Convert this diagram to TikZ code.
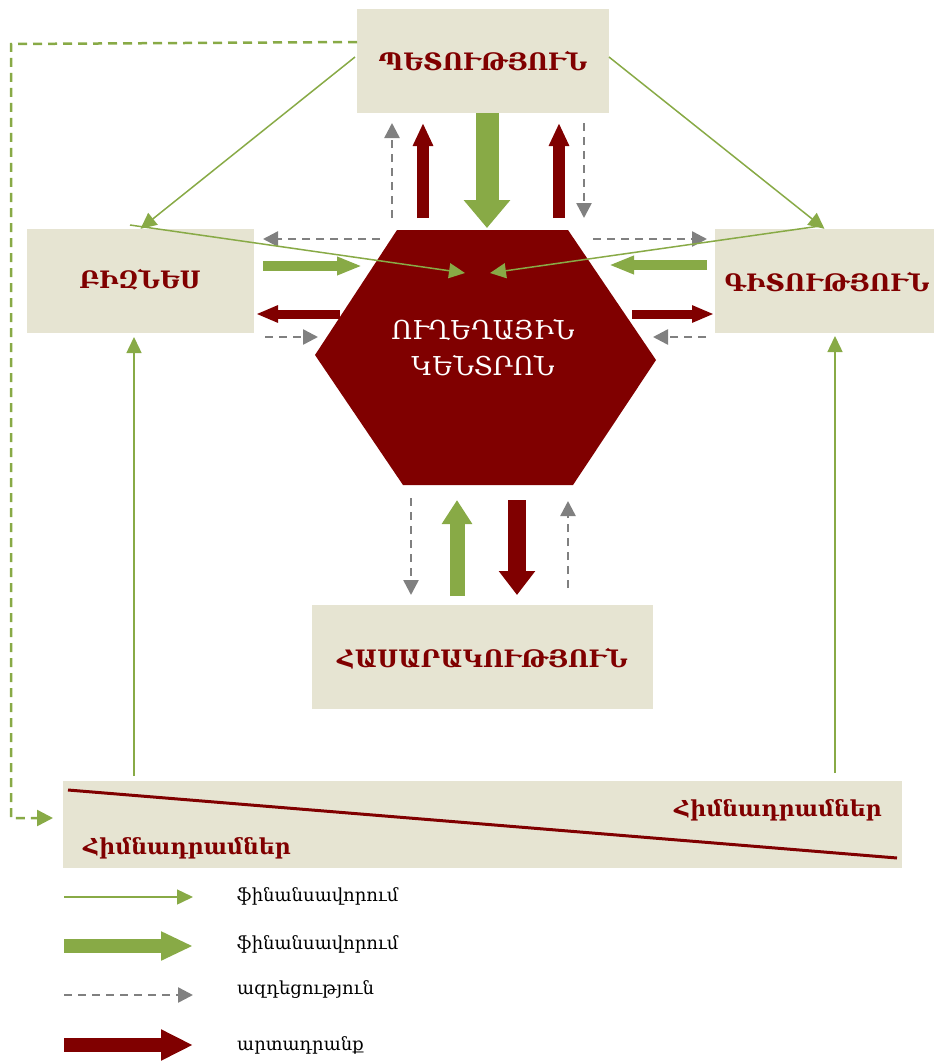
\documentclass[tikz,border=0pt]{standalone}
\usepackage{fontspec}
\setmainfont{DejaVu Serif}
\usetikzlibrary{arrows.meta,calc}
\definecolor{beige}{RGB}{230,228,210}
\definecolor{dred}{RGB}{128,0,0}
\definecolor{lgreen}{RGB}{136,170,70}
\definecolor{lgray}{RGB}{128,128,128}
\begin{document}
\begin{tikzpicture}[x=1pt,y=-1pt,
  box/.style={fill=beige, inner sep=0pt},
  boxtext/.style={inner sep=0pt, text=dred, font=\bfseries\fontsize{24}{28}\selectfont},
  thinarrow/.style={lgreen, line width=1.5pt, -{Triangle[width=15pt,length=16pt]}},
  infl/.style={lgray, line width=2.5pt, dash pattern=on 8pt off 6pt, -{Triangle[width=15pt,length=15pt]}},
  fundline/.style={lgreen, line width=2.5pt, dash pattern=on 9pt off 6pt, -{Triangle[width=16pt,length=16pt]}},
  blockarrow/.style n args={3}{line width=#1, -{Triangle[width=#2,length=#3]}},
  legtext/.style={anchor=west, inner sep=0pt, font=\fontsize{18}{22}\selectfont, text=black},
  fundtext/.style={inner sep=0pt, text=dred, font=\bfseries\fontsize{22}{24}\selectfont}
]
\useasboundingbox (0,0) rectangle (934,1061);

% boxes
\node[box, minimum width=252pt, minimum height=104pt] (pet) at (483,61) {};
\node[box, minimum width=227pt, minimum height=104pt] (biz) at (140.5,281) {};
\node[box, minimum width=219pt, minimum height=104pt] (git) at (824.5,281) {};
\node[box, minimum width=341pt, minimum height=104pt] (has) at (482.5,657) {};
\node[box, minimum width=839pt, minimum height=87pt] (fund) at (482.5,824.5) {};
\node[boxtext] (petT) at (pet.center) {ՊԵՏՈՒԹՅՈՒՆ};
\node[boxtext] (bizT) at (140,280) {ԲԻԶՆԵՍ};
\node[boxtext] (gitT) at (827,282) {ԳԻՏՈՒԹՅՈՒՆ};
\node[boxtext] (hasT) at (482.5,659) {ՀԱՍԱՐԱԿՈՒԹՅՈՒՆ};

% hexagon
\fill[dred] (397,230) -- (568,230) -- (656,360) -- (573,485) -- (403,485) -- (315,355) -- cycle;
\node[text=white, align=center, font=\fontsize{26}{36}\selectfont, inner sep=0pt] (hub) at (483,348) {ՈՒՂԵՂԱՅԻՆ\\ԿԵՆՏՐՈՆ};

% funds box contents
\coordinate (dA) at (68,790);
\coordinate (dB) at (897,858);
\draw[dred, line width=3pt] (dA) -- (dB);
\node[fundtext] (f1) at (778,810) {Հիմնադրամներ};
\node[fundtext] (f2) at (187,848) {Հիմնադրամներ};

% coordinates top
\coordinate (t1a) at (392,218); \coordinate (t1b) at (392,123);
\coordinate (t2a) at (423,218); \coordinate (t2b) at (423,123);
\coordinate (t3a) at (487,113); \coordinate (t3b) at (487,228);
\coordinate (t4a) at (559,218); \coordinate (t4b) at (559,123);
\coordinate (t5a) at (584,123); \coordinate (t5b) at (584,218);
% left
\coordinate (l1a) at (380,239); \coordinate (l1b) at (263,239);
\coordinate (l2a) at (263,266); \coordinate (l2b) at (362,266);
\coordinate (l3a) at (340,314); \coordinate (l3b) at (256,314);
\coordinate (l4a) at (265,337); \coordinate (l4b) at (318,337);
% right
\coordinate (r1a) at (593,239); \coordinate (r1b) at (707,239);
\coordinate (r2a) at (707,265); \coordinate (r2b) at (609,265);
\coordinate (r3a) at (632,314); \coordinate (r3b) at (714,314);
\coordinate (r4a) at (706,337); \coordinate (r4b) at (653,337);
% bottom
\coordinate (b1a) at (411,498); \coordinate (b1b) at (411,595);
\coordinate (b2a) at (457,596); \coordinate (b2b) at (457,500);
\coordinate (b3a) at (517,500); \coordinate (b3b) at (517,595);
\coordinate (b4a) at (568,588); \coordinate (b4b) at (568,501);

% top arrows
\draw[infl] (t1a) -- (t1b);
\draw[dred, blockarrow={12pt}{19pt}{23pt}] (t2a) -- (t2b);
\draw[lgreen, blockarrow={23pt}{45pt}{28pt}] (t3a) -- (t3b);
\draw[dred, blockarrow={12pt}{19pt}{23pt}] (t4a) -- (t4b);
\draw[infl] (t5a) -- (t5b);
% left arrows
\draw[infl] (l1a) -- (l1b);
\draw[lgreen, blockarrow={10pt}{17pt}{25pt}] (l2a) -- (l2b);
\draw[dred, blockarrow={9pt}{16pt}{22pt}] (l3a) -- (l3b);
\draw[infl] (l4a) -- (l4b);
% right arrows
\draw[infl] (r1a) -- (r1b);
\draw[lgreen, blockarrow={10pt}{17pt}{25pt}] (r2a) -- (r2b);
\draw[dred, blockarrow={9pt}{16pt}{22pt}] (r3a) -- (r3b);
\draw[infl] (r4a) -- (r4b);
% bottom arrows
\draw[infl] (b1a) -- (b1b);
\draw[lgreen, blockarrow={15pt}{29pt}{24pt}] (b2a) -- (b2b);
\draw[dred, blockarrow={18pt}{35pt}{24pt}] (b3a) -- (b3b);
\draw[infl] (b4a) -- (b4b);

% thin green financing lines
\coordinate (p1) at (355,57);
\coordinate (p2) at (609,57);
\draw[thinarrow] (p1) -- (biz.north);
\draw[thinarrow] (p2) -- (git.north);
\coordinate (c1s) at (130,225); \coordinate (c1e) at (465,273);
\coordinate (c2s) at (820,226); \coordinate (c2e) at (490,273);
\draw[thinarrow] (c1s) -- (c1e);
\draw[thinarrow] (c2s) -- (c2e);
\coordinate (v1s) at (134,776); \coordinate (v1e) at (134,337);
\coordinate (v2s) at (835,773); \coordinate (v2e) at (835,336);
\draw[thinarrow] (v1s) -- (v1e);
\draw[thinarrow] (v2s) -- (v2e);

% dashed green line from state to funds
\coordinate (g0) at (357,42);
\coordinate (g1) at (11,44);
\coordinate (g2) at (11,818);
\coordinate (g3) at (53,818);
\draw[fundline] (g0) -- (g1) -- (g2) -- (g3);

% legend
\coordinate (lg1a) at (64,897); \coordinate (lg1b) at (193,897);
\coordinate (lg2a) at (64,946); \coordinate (lg2b) at (193,946);
\coordinate (lg3a) at (64,995); \coordinate (lg3b) at (193,995);
\coordinate (lg4a) at (64,1045); \coordinate (lg4b) at (193,1045);
\draw[thinarrow] (lg1a) -- (lg1b);
\draw[lgreen, blockarrow={14pt}{27pt}{32pt}] (lg2a) -- (lg2b);
\draw[infl] (lg3a) -- (lg3b);
\draw[dred, blockarrow={14pt}{29pt}{32pt}] (lg4a) -- (lg4b);
\node[legtext] (lt1) at (237,896) {ֆինանսավորում};
\node[legtext] (lt2) at (237,944) {ֆինանսավորում};
\node[legtext] (lt3) at (237,990) {ազդեցություն};
\node[legtext] (lt4) at (237,1045) {արտադրանք};
\end{tikzpicture}
\end{document}
